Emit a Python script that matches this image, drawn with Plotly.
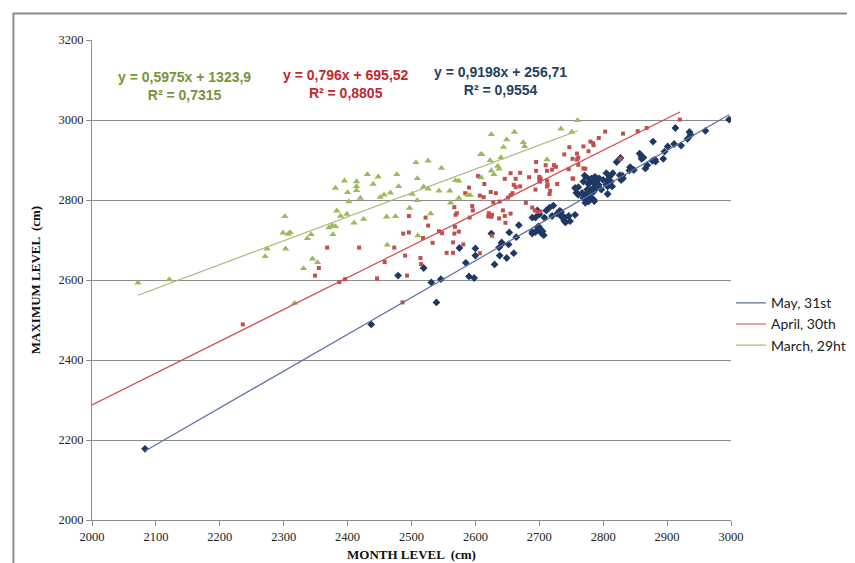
import plotly.graph_objects as go
import numpy as np

# ---------------- DATA ----------------
may_pts = [
    (2083,2178),(2437,2489),
    (2479,2611),(2519,2630),(2531,2594),(2539,2544),(2546,2602),
    (2575,2680),(2585,2643),(2590,2609),(2598,2605),(2600,2679),(2600,2661),
    (2625,2716),(2630,2639),(2637,2681),(2641,2694),(2652,2689),(2642,2691),
    (2638,2661),(2649,2655),(2660,2667),(2653,2719),(2664,2707),(2668,2737),
    (2689,2716),(2694,2720),(2700,2724),(2704,2716),(2707,2712),(2699,2734),
    (2697,2732),(2702,2727),(2705,2722),(2689,2720),
    (2697,2774),(2700,2764),(2694,2756),(2689,2756),(2708,2756),
    (2722,2786),(2716,2781),(2711,2774),(2720,2760),(2728,2766),(2732,2773),(2734,2764),
    (2735,2758),(2739,2748),(2741,2744),(2734,2770),(2740,2756),(2746,2760),(2756,2763),(2748,2747),
    (2761,2832),(2758,2818),(2761,2813),(2767,2818),(2772,2813),(2777,2812),(2769,2805),
    (2775,2805),(2785,2801),(2772,2793),(2777,2796),(2756,2830),
    (2771,2861),(2777,2853),(2782,2854),(2787,2858),(2790,2854),
    (2769,2846),(2777,2840),(2784,2845),(2787,2834),(2792,2838),(2781,2826),(2786,2823),(2775,2826),
    (2815,2867),(2810,2858),(2805,2867),(2807,2850),(2812,2846),(2805,2838),(2800,2850),(2794,2854),
    (2789,2850),(2788,2842),(2793,2838),(2797,2826),(2807,2834),(2814,2834),(2807,2815),(2787,2826),
    (2784,2820),(2782,2804),(2786,2797),
    (2821,2895),(2827,2905),(2831,2854),(2828,2850),(2826,2862),(2830,2861),
    (2848,2875),(2842,2882),(2841,2874),(2844,2879),
    (2857,2916),(2860,2909),(2860,2903),(2863,2906),(2869,2887),(2866,2879),
    (2881,2901),(2882,2896),(2877,2898),(2878,2946),
    (2894,2903),(2896,2921),(2901,2934),(2911,2940),(2913,2980),(2922,2936),
    (2935,2970),(2937,2963),(2932,2953),(2960,2973),(2997,3001),
]
april_pts = [
    (2236,2489),(2486,2544),(2349,2611),(2355,2630),(2387,2595),(2396,2602),(2446,2604),(2493,2611),
    (2368,2681),(2418,2681),(2473,2681),(2490,2661),(2458,2645),(2514,2655),(2515,2640),
    (2487,2716),(2496,2719),(2518,2705),(2533,2693),
    (2496,2760),(2522,2756),(2526,2736),
    (2543,2722),(2548,2717),(2568,2733),(2574,2721),(2567,2716),
    (2565,2694),(2581,2689),(2555,2668),(2565,2668),(2607,2667),
    (2567,2782),(2569,2763),(2571,2767),(2595,2785),(2596,2774),(2591,2756),
    (2604,2860),(2614,2840),(2590,2831),(2584,2817),(2607,2811),(2613,2807),(2624,2820),(2632,2817),
    (2646,2853),(2655,2867),(2663,2853),(2670,2868),(2660,2838),(2663,2832),(2670,2834),
    (2655,2812),(2651,2806),(2658,2817),(2638,2796),(2628,2794),
    (2621,2767),(2626,2763),(2620,2759),(2625,2758),(2643,2774),(2646,2760),(2655,2766),(2637,2754),(2647,2743),
    (2626,2711),(2679,2793),(2689,2781),(2693,2774),(2697,2770),(2702,2771),
    (2694,2826),(2684,2857),(2695,2895),(2695,2873),(2712,2873),(2700,2858),(2702,2854),(2700,2850),(2701,2846),
    (2712,2848),(2712,2834),(2717,2823),(2716,2815),
    (2726,2883),(2723,2887),(2720,2876),(2710,2887),(2713,2838),
    (2739,2914),(2752,2903),(2759,2916),(2759,2901),(2761,2906),(2753,2853),(2746,2877),(2752,2854),(2728,2840),
    (2747,2932),(2761,2888),(2769,2879),(2772,2878),
    (2769,2934),(2777,2922),(2780,2946),(2784,2942),(2793,2955),
    (2785,2937),(2803,2971),(2827,2903),(2831,2966),(2854,2972),(2868,2980),(2920,3001),
]
march_pts = [
    (2072,2593),(2121,2601),(2317,2542),
    (2271,2659),(2274,2678),(2303,2678),(2331,2629),(2345,2653),(2353,2644),
    (2299,2718),(2302,2759),(2307,2715),(2310,2719),
    (2337,2704),(2343,2714),(2371,2731),(2376,2736),(2381,2734),(2377,2714),
    (2383,2773),(2389,2760),(2399,2765),(2410,2743),(2425,2752),
    (2381,2830),(2395,2848),(2400,2819),(2402,2796),(2414,2846),(2414,2834),(2414,2824),(2420,2805),
    (2431,2864),(2440,2840),(2448,2858),(2451,2807),(2457,2813),(2467,2818),(2461,2758),(2475,2759),(2462,2688),
    (2477,2864),(2480,2834),(2497,2780),(2501,2815),(2509,2799),(2509,2854),(2507,2894),(2510,2711),
    (2519,2833),(2526,2898),(2526,2828),(2530,2766),(2543,2823),(2547,2880),
    (2560,2823),(2561,2793),(2569,2849),(2574,2848),(2574,2805),
    (2588,2813),(2592,2812),(2609,2856),
    (2608,2914),(2610,2914),(2623,2899),(2625,2873),(2629,2864),(2635,2885),(2637,2878),(2640,2906),(2644,2932),
    (2625,2964),(2649,2951),(2661,2970),
    (2675,2944),(2677,2934),(2712,2901),
    (2734,2978),(2751,2970),(2760,2999),
]

series_names = ["May, 31st", "April, 30th", "March, 29ht"]
slopes = [0.9198, 0.796, 0.5975]
intercepts = [256.71, 695.52, 1323.9]
r2 = ["0,9554", "0,8805", "0,7315"]
eq_text = ["y = 0,9198x + 256,71", "y = 0,796x + 695,52", "y = 0,5975x + 1323,9"]
trend_start = [None, 2000, None]   # April trendline forecast back to 2000
eq_pos_x = [2640, 2398, 2145]
eq_pos_y = [3098, 3090, 3086]

x_ticks = list(range(2000, 3001, 100))
y_ticks = list(range(2000, 3201, 200))

# ---------------- STYLE ----------------
marker_colors = ["#1F3864", "#C0504D", "#9BBB59"]
line_colors = ["#5E709C", "#D24A50", "#A9B878"]
eq_colors = ["#243F60", "#C0282D", "#77933C"]
symbols = ["diamond", "square", "triangle-up"]
sizes = [6, 4, 6.5]

fig = go.Figure()
all_pts = [may_pts, april_pts, march_pts]

for i, pts in enumerate(all_pts):
    xs = [p[0] for p in pts]
    ys = [p[1] for p in pts]
    fig.add_trace(go.Scatter(
        x=xs, y=ys, mode="markers", showlegend=False, hoverinfo="x+y",
        marker=dict(symbol=symbols[i], size=sizes[i], color=marker_colors[i], line=dict(width=0)),
    ))

for i, pts in enumerate(all_pts):
    xs = [p[0] for p in pts]
    x0 = trend_start[i] if trend_start[i] is not None else min(xs)
    x1 = max(xs)
    tx = np.array([x0, x1], dtype=float)
    ty = slopes[i] * tx + intercepts[i]
    fig.add_trace(go.Scatter(
        x=tx, y=ty, mode="lines", name=series_names[i],
        line=dict(color=line_colors[i], width=1.2), hoverinfo="skip",
    ))

for i in range(3):
    fig.add_annotation(
        x=eq_pos_x[i], y=eq_pos_y[i], xref="x", yref="y",
        text=f"<b>{eq_text[i]}</b><br><b>R² = {r2[i]}</b>",
        showarrow=False, align="center",
        font=dict(family="Liberation Sans, Arial", size=14, color=eq_colors[i]),
    )

# chart frame (gray border around chart area)
fig.add_shape(type="rect", xref="paper", yref="paper",
              x0=-0.123, y0=-0.2, x1=1.3, y1=1.055,
              line=dict(color="#8C8C8C", width=2), fillcolor="rgba(0,0,0,0)", layer="below")

axis_font = dict(family="Liberation Serif, Times New Roman", size=12.5, color="#222222")
fig.update_layout(
    width=855, height=563,
    margin=dict(l=84, r=124, t=32, b=40),
    paper_bgcolor="white", plot_bgcolor="white",
    showlegend=True,
    legend=dict(x=1.0, y=0.485, xanchor="left", yanchor="top",
                font=dict(family="Lato, Liberation Sans", size=14, color="#222222"),
                bgcolor="rgba(0,0,0,0)", itemwidth=30, tracegroupgap=0),
    xaxis=dict(range=[2000, 3000], tickvals=x_ticks, ticktext=[str(v) for v in x_ticks],
               showgrid=False, zeroline=False, showline=True, linecolor="#8C8C8C", linewidth=1,
               ticks="outside", ticklen=5, tickcolor="#8C8C8C", tickfont=axis_font,
               title=dict(text="<b>MONTH LEVEL  (cm)</b>", font=dict(family="Liberation Serif, Times New Roman", size=13, color="#111111"), standoff=6)),
    yaxis=dict(range=[2000, 3200], tickvals=y_ticks, ticktext=[str(v) for v in y_ticks],
               showgrid=True, gridcolor="#8C8C8C", gridwidth=1, zeroline=False,
               showline=True, linecolor="#8C8C8C", linewidth=1,
               ticks="outside", ticklen=5, tickcolor="#8C8C8C", tickfont=axis_font,
               title=dict(text="<b>MAXIMUM LEVEL  (cm)</b>", font=dict(family="Liberation Serif, Times New Roman", size=13, color="#111111"), standoff=14)),
)

fig.write_html("out.html")
